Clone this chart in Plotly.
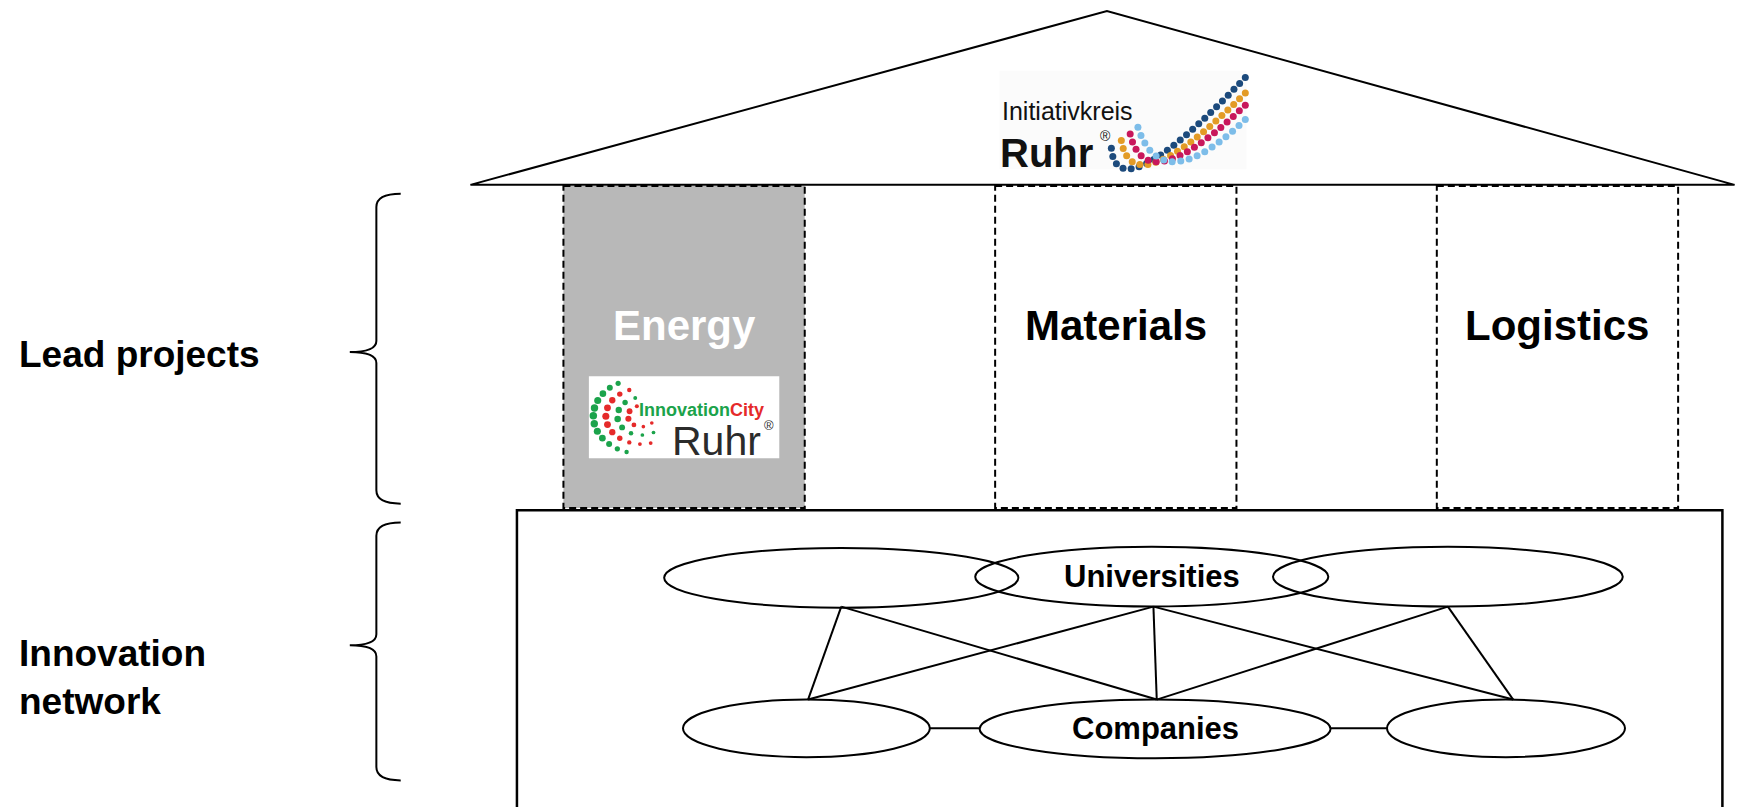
import numpy as np
import plotly.graph_objects as go

W, H = 1739, 807
K = 1739 / 1571          # page pixels per drawing unit
XR, YR = W / K, H / K    # drawing extent in units

FONT = "Arial, Liberation Sans, sans-serif"

# ---------------- content ----------------
side_labels = ["Lead projects", "Innovation<br>network"]
pillar_labels = ["Energy", "Materials", "Logistics"]
pillar_label_colors = ["white", "black", "black"]
pillar_fills = ["#b8b8b8", "rgba(0,0,0,0)", "rgba(0,0,0,0)"]
top_node_labels = ["", "Universities", ""]
bottom_node_labels = ["", "Companies", ""]
links = [(0, 0), (0, 1), (1, 0), (1, 1), (1, 2), (2, 1), (2, 2)]  # (top node, bottom node)
bottom_chain = [(0, 1), (1, 2)]
logo_top = ["Initiativkreis", "Ruhr"]
logo_energy = ["<span style='color:#1ba34b'>Innovation</span><span style='color:#e52a2a'>City</span>", "Ruhr"]

# ---------------- geometry ----------------
roof = [(425, 167), (1000, 10), (1567, 167)]
pillar_x = [(509, 727), (899, 1117), (1298, 1516)]
pillar_y = (168, 459)
box = (467, 461, 1556, 745)
top_nodes = [(600, 920, 495, 549), (881, 1200, 494, 548), (1150, 1466, 494, 548)]
bottom_nodes = [(617, 840, 632, 684), (885, 1202, 632, 685), (1253, 1468, 632, 684)]
top_anchor = [(760, 548), (1042, 548), (1308, 548)]
bottom_anchor = [(730, 632), (1045, 632), (1367, 632)]
braces = [(175, 318, 455), (472, 583, 705)]

fig = go.Figure()
shapes = []
ann = []
LW = 2

# roof
(x0, y0), (xa, ya), (x1, y1) = roof
shapes.append(dict(type="path", path=f"M {x0},{y0} L {xa},{ya} L {x1},{y1} Z",
                   line=dict(color="black", width=LW), fillcolor="white", layer="below"))

# pillars: fills (below traces) then dashed outlines
for (px0, px1), fc in zip(pillar_x, pillar_fills):
    shapes.append(dict(type="rect", x0=px0, x1=px1, y0=pillar_y[0], y1=pillar_y[1],
                       line=dict(width=0), fillcolor=fc, layer="below"))
for (px0, px1), lab, col in zip(pillar_x, pillar_labels, pillar_label_colors):
    shapes.append(dict(type="rect", x0=px0, x1=px1, y0=pillar_y[0], y1=pillar_y[1],
                       line=dict(color="black", width=LW, dash="7px,4px"), fillcolor="rgba(0,0,0,0)"))
    ann.append(dict(x=(px0 + px1) / 2, y=294, text=f"<b>{lab}</b>", showarrow=False,
                    font=dict(family=FONT, size=42, color=col), xanchor="center", yanchor="middle"))

# network box
shapes.append(dict(type="rect", x0=box[0], y0=box[1], x1=box[2], y1=box[3],
                   line=dict(color="black", width=2.5), fillcolor="rgba(0,0,0,0)"))

# links
for ti, bi in links:
    (ax, ay), (bx, by) = top_anchor[ti], bottom_anchor[bi]
    shapes.append(dict(type="line", x0=ax, y0=ay, x1=bx, y1=by, line=dict(color="black", width=LW)))
for a, b in bottom_chain:
    shapes.append(dict(type="line", x0=bottom_nodes[a][1], y0=658, x1=bottom_nodes[b][0], y1=658,
                       line=dict(color="black", width=LW)))

# nodes
for nodes, labels in ((top_nodes, top_node_labels), (bottom_nodes, bottom_node_labels)):
    for (ex0, ex1, ey0, ey1), lab in zip(nodes, labels):
        shapes.append(dict(type="circle", x0=ex0, x1=ex1, y0=ey0, y1=ey1,
                           line=dict(color="black", width=LW), fillcolor="rgba(0,0,0,0)"))
        if lab:
            ann.append(dict(x=(ex0 + ex1) / 2, y=(ey0 + ey1) / 2, text=f"<b>{lab}</b>", showarrow=False,
                            font=dict(family=FONT, size=31, color="black"), xanchor="center", yanchor="middle"))

# braces
for top, tip, bot in braces:
    sx, tx, hx = 340, 316, 362
    p = (f"M {hx},{top} Q {sx},{top} {sx},{top+12} L {sx},{tip-10} Q {sx},{tip} {tx},{tip} "
         f"Q {sx},{tip} {sx},{tip+10} L {sx},{bot-12} Q {sx},{bot} {hx},{bot}")
    shapes.append(dict(type="path", path=p, line=dict(color="black", width=LW)))

# side labels
ann.append(dict(x=15, y=320, text=f"<b>{side_labels[0]}</b>", showarrow=False, align="left",
                font=dict(family=FONT, size=37, color="black"), xanchor="left", yanchor="middle"))
ann.append(dict(x=15, y=612, text=f"<b>{side_labels[1]}</b>", showarrow=False, align="left",
                font=dict(family=FONT, size=37, color="black"), xanchor="left", yanchor="middle"))

# ---------------- Initiativkreis Ruhr logo ----------------
shapes.append(dict(type="rect", x0=903, x1=1126, y0=64, y1=153, line=dict(width=0), fillcolor="#fbfbfb", layer="below"))
ann.append(dict(x=903, y=100, text=logo_top[0], showarrow=False, font=dict(family=FONT, size=25, color="#111"),
                xanchor="left", yanchor="middle"))
ann.append(dict(x=902, y=138, text=f"<b>{logo_top[1]}</b>", showarrow=False, font=dict(family=FONT, size=40, color="#111"),
                xanchor="left", yanchor="middle"))
ann.append(dict(x=999, y=123, text="®", showarrow=False, font=dict(family=FONT, size=14, color="#111"),
                xanchor="center", yanchor="middle"))

swoosh_rows = [  # start, lowest, end, count, colour
    ((1004, 134), (1037, 147), (1125, 70), 23, "#1c4a7c"),
    ((1013, 127), (1046, 146), (1125, 84), 21, "#e39b26"),
    ((1021, 121), (1054, 145), (1125, 95), 19, "#c8175c"),
    ((1028, 115), (1063, 146), (1125, 108), 17, "#7dbde9"),
]
for p0, m, p2, n, colr in swoosh_rows:
    p0, m, p2 = map(np.array, (p0, m, p2))
    p1 = 2 * m - (p0 + p2) / 2
    t = np.linspace(0, 1, 400)[:, None]
    curve = (1 - t) ** 2 * p0 + 2 * t * (1 - t) * p1 + t ** 2 * p2
    seg = np.r_[0, np.cumsum(np.hypot(*np.diff(curve, axis=0).T))]
    s = np.linspace(0, seg[-1], n)
    xs, ys = np.interp(s, seg, curve[:, 0]), np.interp(s, seg, curve[:, 1])
    fig.add_trace(go.Scatter(x=xs, y=ys, mode="markers", hoverinfo="skip",
                             marker=dict(size=7, color=colr, opacity=1, line=dict(width=0))))

# ---------------- InnovationCity Ruhr logo ----------------
shapes.append(dict(type="rect", x0=532, x1=704, y0=340, y1=414, line=dict(width=0), fillcolor="white", layer="below"))
ann.append(dict(x=634, y=370, text=f"<b>{logo_energy[0]}</b>", showarrow=False,
                font=dict(family=FONT, size=18), xanchor="center", yanchor="middle"))
ann.append(dict(x=647, y=398, text=logo_energy[1], showarrow=False,
                font=dict(family=FONT, size=41, color="#2b2b2b"), xanchor="center", yanchor="middle"))
ann.append(dict(x=695, y=384, text="®", showarrow=False, font=dict(family=FONT, size=13, color="#2b2b2b"),
                xanchor="center", yanchor="middle"))

arcs = [  # scale, first angle, last angle, count, colour
    (1.00, 241, 108, 12, "#1ba34b"),
    (0.74, 250, 75, 11, "#e52a2a"),
    (0.50, 255, 60, 8, "#1ba34b"),
    (0.28, 250, 40, 6, "#e52a2a"),
]
cx, cy, rx, ry = 579.5, 376.0, 43.5, 34.0
for sc, a0, a1, n, colr in arcs:
    th = np.radians(np.linspace(a0, a1, n))
    xs = cx + sc * rx * np.cos(th)
    ys = cy + sc * ry * np.sin(th)
    sz = 3 + 4.5 * np.clip(-np.cos(th), 0.2, 1) * (0.6 + 0.4 * sc)
    fig.add_trace(go.Scatter(x=xs, y=ys, mode="markers", hoverinfo="skip",
                             marker=dict(size=sz, color=colr, opacity=1, line=dict(width=0))))

fig.update_layout(
    width=W, height=H, margin=dict(l=0, r=0, t=0, b=0),
    paper_bgcolor="white", plot_bgcolor="white", showlegend=False,
    xaxis=dict(range=[0, XR], visible=False, fixedrange=True),
    yaxis=dict(range=[YR, 0], visible=False, fixedrange=True),
    shapes=shapes, annotations=ann,
)
fig.write_html("out.html", config={"displayModeBar": False},
               post_script="document.body.style.margin='0';document.body.style.overflow='hidden';")
